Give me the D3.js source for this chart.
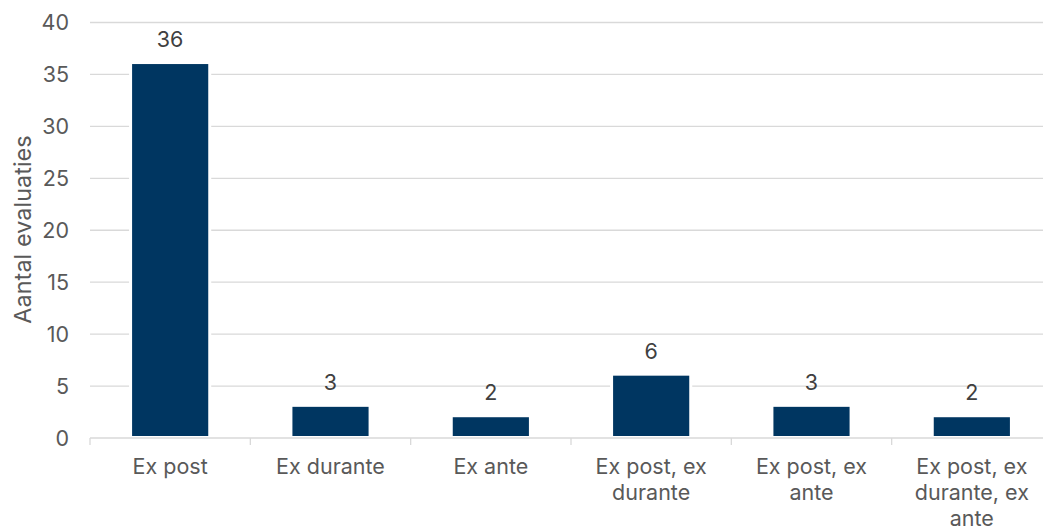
<!DOCTYPE html>
<html>
<head>
<meta charset="utf-8">
<script src="https://cdn.jsdelivr.net/npm/d3@7"></script>
<style>
  html, body { margin: 0; padding: 0; background: #fff; }
  svg { display: block; font-family: Inter, "Noto Sans", sans-serif; }
</style>
</head>
<body>
<svg id="chart" width="1043" height="528"></svg>
<script>
// Evaluation types and counts
const categories = ["Ex post", "Ex durante", "Ex ante", "Ex post, ex durante", "Ex post, ex ante", "Ex post, ex durante, ex ante"];
const counts = [36, 3, 2, 6, 3, 2];
const yTicks = [0, 5, 10, 15, 20, 25, 30, 35, 40];
const yTitle = "Aantal evaluaties";

const svg = d3.select("#chart");
const margin = { left: 90, top: 22.5 };
const plotRight = 1052;
const plotBottom = 438;
const fs = 21.5;

const x = d3.scaleBand().domain(categories).range([margin.left, plotRight]).paddingInner(0.525).paddingOuter(0.2625);
const y = d3.scaleLinear().domain([0, 40]).range([plotBottom, margin.top]);

// Horizontal gridlines
svg.append("g").selectAll("line").data(yTicks.filter(d => d > 0)).join("line")
  .attr("x1", margin.left).attr("x2", plotRight)
  .attr("y1", d => y(d)).attr("y2", d => y(d))
  .attr("stroke", "#d9d9d9").attr("stroke-width", 1.3);

// Y tick labels
svg.append("g").selectAll("text").data(yTicks).join("text")
  .attr("x", 69).attr("y", d => y(d)).attr("dy", "0.36em")
  .attr("text-anchor", "end").attr("font-size", fs).attr("fill", "#595959")
  .text(d => d);

// Y axis title
svg.append("text")
  .attr("transform", `translate(31, 229.5) rotate(-90)`)
  .attr("text-anchor", "middle").attr("font-size", 23.5).attr("fill", "#595959")
  .text(yTitle);

// Bars with a thin white halo
const bars = svg.append("g");
bars.selectAll("rect.halo").data(counts).join("rect").attr("class", "halo")
  .attr("x", (d, i) => x(categories[i]) - 3)
  .attr("width", x.bandwidth() + 6)
  .attr("y", d => y(d) - 2)
  .attr("height", d => plotBottom - y(d) + 1)
  .attr("fill", "#fff");
bars.selectAll("rect.bar").data(counts).join("rect").attr("class", "bar")
  .attr("x", (d, i) => x(categories[i]))
  .attr("width", x.bandwidth())
  .attr("y", d => y(d))
  .attr("height", d => plotBottom - 2 - y(d))
  .attr("fill", "#003661");

// X axis line and ticks at category boundaries
const step = x.step();
const boundaries = d3.range(categories.length + 1).map(i => margin.left + i * step);
svg.append("line")
  .attr("x1", margin.left).attr("x2", plotRight)
  .attr("y1", plotBottom).attr("y2", plotBottom)
  .attr("stroke", "#d9d9d9").attr("stroke-width", 1.3);
svg.append("g").selectAll("line").data(boundaries).join("line")
  .attr("x1", d => d).attr("x2", d => d)
  .attr("y1", plotBottom).attr("y2", plotBottom + 7)
  .attr("stroke", "#d9d9d9").attr("stroke-width", 1.3);

// Value labels
svg.append("g").selectAll("text").data(counts).join("text")
  .attr("x", (d, i) => x(categories[i]) + x.bandwidth() / 2)
  .attr("y", d => y(d) - 17)
  .attr("text-anchor", "middle").attr("font-size", fs).attr("fill", "#404040")
  .text(d => d);

// Category labels, wrapped to the band width
const maxW = 140;
const labels = svg.append("g");
categories.forEach(cat => {
  const t = labels.append("text")
    .attr("text-anchor", "middle").attr("font-size", fs).attr("fill", "#595959")
    .attr("x", x(cat) + x.bandwidth() / 2).attr("y", 474);
  const words = cat.split(" ");
  let lines = [], cur = "";
  const probe = t.append("tspan");
  words.forEach(w => {
    const test = cur ? cur + " " + w : w;
    probe.text(test);
    if (probe.node().getComputedTextLength() > maxW && cur) {
      lines.push(cur); cur = w;
    } else cur = test;
  });
  lines.push(cur);
  probe.remove();
  lines.forEach((ln, k) => {
    t.append("tspan").attr("x", x(cat) + x.bandwidth() / 2)
      .attr("dy", k === 0 ? 0 : 26).text(ln);
  });
});
</script>
</body>
</html>
